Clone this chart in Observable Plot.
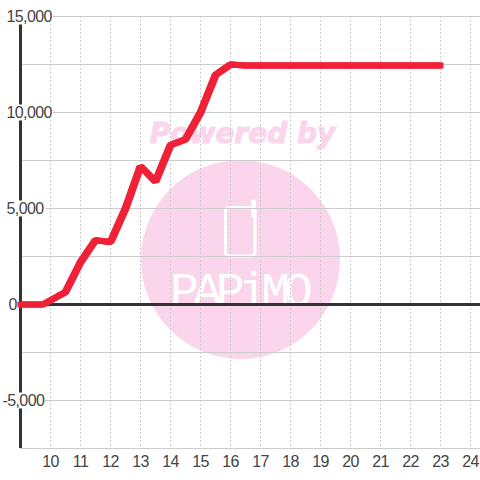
<!DOCTYPE html>
<html><head><meta charset="utf-8">
<style>html,body{margin:0;padding:0;background:#fff;overflow:hidden}svg{display:block}</style>
<script src="https://cdn.jsdelivr.net/npm/d3@7"></script>
<script src="https://cdn.jsdelivr.net/npm/@observablehq/plot@0.6"></script>
</head><body>
<script>
const hours = [9, 9.75, 10.5, 11, 11.5, 12, 12.5, 13, 13.5, 14, 14.5, 15, 15.5, 16, 16.5, 23];
const values = [0, 0, 650, 2200, 3350, 3250, 5000, 7200, 6400, 8300, 8600, 10000, 11950, 12500, 12450, 12450];
const xTicks = [10,11,12,13,14,15,16,17,18,19,20,21,22,23,24];
const yGrid = [15000,12500,10000,7500,5000,2500,0,-2500,-5000,-7500];
const series = hours.map((h,i)=>({h, v: values[i]}));

const W = 480, H = 480, ML = 20, MT = 16, MB = 32;
const xAt = px => 9 + (px - ML) / 30;
const yAt = py => 15000 - (py - MT) / 96 * 5000;
const font = "'Liberation Sans', Arial, sans-serif";
const gridCol = "#ccc", dark = "#333", pink = "#fbd5ec", red = "#f02137";

const yLabel = (vals, dx, rightPx) => [
  Plot.ruleY(vals, {x1: xAt(0), x2: xAt(rightPx), stroke: "#fff", strokeWidth: 16}),
  Plot.text(vals, {x: 9, y: d=>d, dx, text: d=>d3.format(",")(d).replace("−","-"), textAnchor: "start", fontSize: 16, fill: "#444"})
];
const seriesLine = (dx, cap) => Plot.line(series, {x: "h", y: "v", dx, stroke: red, strokeWidth: 6, strokeLinejoin: "miter", strokeLinecap: cap});

const chart = Plot.plot({
  width: W, height: H, marginLeft: ML, marginRight: 0, marginTop: MT, marginBottom: MB,
  style: {fontFamily: font, background: "#fff"},
  x: {domain: [9, xAt(W)], range: [ML, W], axis: null},
  y: {domain: [-7500, 15000], range: [H - MB, MT], axis: null},
  marks: [
    // watermark
    Plot.dot([0], {x: xAt(240), y: yAt(259), r: 99.5, fill: pink, stroke: "none"}),
    Plot.text(["Powered by"], {x: xAt(242), y: yAt(133.5), fontSize: 28, fontWeight: "bold", fontStyle: "italic", fontFamily: "'DejaVu Sans', sans-serif", fill: pink, stroke: pink, strokeWidth: 1, text: d=>d}),
    Plot.rect([0], {x1: xAt(225.5), x2: xAt(255), y1: yAt(207.5), y2: yAt(256), rx: 4, fill: "none", stroke: "#fff", strokeWidth: 3}),
    Plot.ruleX([0], {x: xAt(253), y1: yAt(202), y2: yAt(215), stroke: "#fff", strokeWidth: 5, strokeLinecap: "round"}),
    Plot.text(["PAPiMO"], {x: xAt(238), y: yAt(290), fontSize: 48, fontFamily: "'Liberation Mono', monospace", fill: "#fff", text: d=>d}),
    // grid
    Plot.ruleY(yGrid, {y: d=>d, stroke: gridCol, strokeWidth: 1}),
    Plot.ruleX(xTicks, {x: d=>d, stroke: gridCol, strokeWidth: 1, strokeDasharray: "2,2"}),
    // axes
    Plot.ruleX([9], {stroke: dark, strokeWidth: 3}),
    Plot.ruleY([0], {x1: 9, x2: xAt(W), stroke: dark, strokeWidth: 3}),
    // y labels
    ...yLabel([15000, 10000], -14, 53),
    ...yLabel([5000], -14, 45),
    ...yLabel([0], -12, 17),
    ...yLabel([-5000], -18, 45),
    // x labels
    Plot.text(xTicks, {x: d=>d, y: -7500, dy: 13, text: d=>String(d), fontSize: 16, fill: "#444"}),
    // series
    seriesLine(-1, "butt"), seriesLine(1, "butt"), seriesLine(0, "square")
  ]
});
d3.select(chart).selectAll("text").each(function() {
  const t = this.textContent;
  if (t === "PAPiMO") this.style.letterSpacing = "-6px";
  else if (t !== "Powered by") this.style.letterSpacing = "-0.6px";
});
document.body.appendChild(chart);
</script>
</body></html>
